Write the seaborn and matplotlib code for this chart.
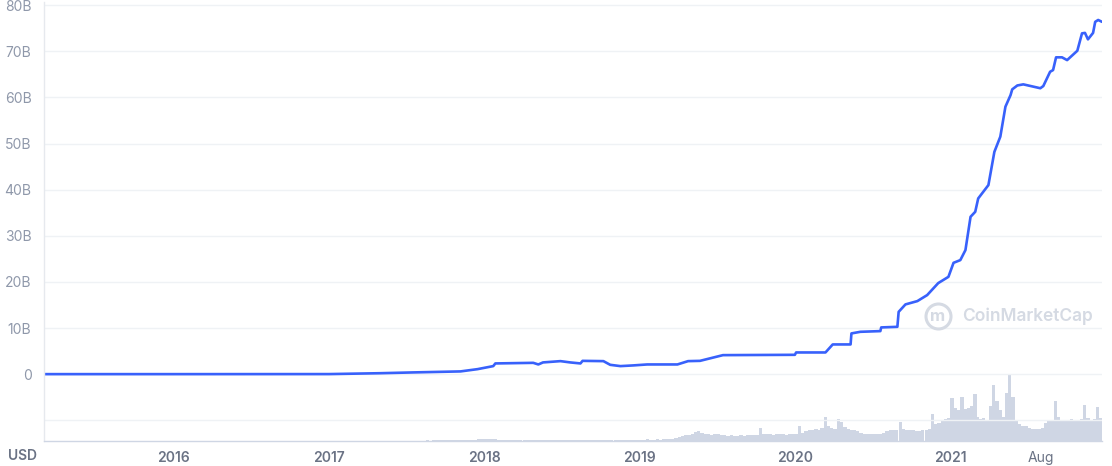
import matplotlib
matplotlib.use("Agg")
import matplotlib.pyplot as plt
import numpy as np
import pandas as pd
import seaborn as sns

# market cap, billions USD
cap_dates = [
    "2015-03-03", "2016-01-01", "2017-01-01", "2017-05-01", "2017-07-17", "2017-11-06",
    "2017-12-16", "2018-01-22", "2018-01-27", "2018-04-26", "2018-05-08", "2018-05-19",
    "2018-06-29", "2018-07-22", "2018-08-15", "2018-08-20", "2018-10-08", "2018-10-24",
    "2018-11-17", "2018-12-17", "2019-01-19", "2019-03-31", "2019-04-25", "2019-05-23",
    "2019-07-16", "2020-01-01", "2020-01-04", "2020-03-13", "2020-03-30", "2020-05-11",
    "2020-05-13", "2020-06-03", "2020-07-20", "2020-07-22", "2020-08-29", "2020-09-01",
    "2020-09-17", "2020-10-15", "2020-11-07", "2020-12-03", "2020-12-27", "2021-01-08",
    "2021-01-24", "2021-02-05", "2021-02-17", "2021-02-28", "2021-03-07", "2021-03-19",
    "2021-03-31", "2021-04-14", "2021-04-28", "2021-05-10", "2021-05-22", "2021-05-26",
    "2021-06-07", "2021-06-21", "2021-07-31", "2021-08-07", "2021-08-23", "2021-08-30",
    "2021-09-06", "2021-09-20", "2021-10-02", "2021-10-26", "2021-11-06", "2021-11-13",
    "2021-11-20", "2021-12-02", "2021-12-07", "2021-12-14", "2021-12-23",
]
cap_values = [
    0.0, 0.0, 0.01, 0.2, 0.37, 0.59,
    1.08, 1.74, 2.32, 2.45, 2.1, 2.54,
    2.82, 2.54, 2.32, 2.88, 2.82, 2.02,
    1.74, 1.89, 2.1, 2.1, 2.82, 2.88,
    4.12, 4.19, 4.7, 4.7, 6.44, 6.44,
    8.83, 9.18, 9.33, 10.13, 10.26, 13.51,
    15.12, 15.84, 17.14, 19.74, 21.1, 24.14,
    24.73, 26.9, 34.12, 35.2, 38.1, 39.55,
    41.0, 48.2, 51.5, 58.0, 60.5, 61.76,
    62.6, 62.84, 62.0, 62.47, 65.57, 65.94,
    68.7, 68.7, 68.1, 70.13, 73.9, 74.0,
    72.6, 74.0, 76.4, 76.8, 76.4,
]

# volume, billions USD, four readings per month
vol_2017 = [0.3, 0.3, 0.4, 0.3, 0.3, 0.4, 0.3, 0.4, 0.4, 0.5, 0.4, 0.5,
            0.5, 0.6, 0.5, 0.6, 0.7, 0.6, 0.8, 0.7, 0.8, 0.9, 0.8, 0.9,
            0.9, 1.0, 0.9, 1.1, 1.0, 1.1, 1.2, 1.1, 1.2, 1.3, 1.4, 1.3,
            1.5, 1.6, 1.8, 1.7, 1.9, 2.2, 2.4, 2.1, 2.6, 3.2, 3.8, 4.2]
vol_2018 = [4.5, 5.0, 4.2, 3.6, 3.4, 3.2, 2.8, 2.6, 2.6, 2.4, 2.5, 2.3,
            2.2, 2.4, 2.2, 2.1, 2.2, 2.0, 2.1, 2.2, 2.0, 1.9, 2.0, 2.1,
            2.0, 1.9, 2.1, 2.0, 2.1, 2.2, 2.0, 2.1, 2.2, 2.0, 2.1, 2.2,
            2.3, 2.2, 2.5, 2.4, 2.6, 2.8, 2.5, 2.4, 2.5, 2.6, 2.7, 2.8]
vol_2019 = [3, 3, 4, 3, 3, 4, 3, 4, 4, 5, 4, 6,
            8, 12, 14, 13, 16, 20, 23, 18, 16, 15, 14, 17,
            15, 14, 13, 12, 13, 12, 12, 13, 12, 13, 14, 13,
            14, 30, 16, 15, 15, 14, 16, 15, 15, 14, 16, 17]
vol_2020 = [16, 35, 18, 22, 24, 26, 28, 25, 30, 55, 35, 30,
            28, 50, 44, 32, 28, 26, 24, 22, 18, 16, 16, 17,
            16, 16, 17, 18, 22, 25, 24, 26, 44, 28, 26, 25,
            24, 23, 22, 24, 25, 28, 62, 38, 40, 45, 50, 52]
vol_2021 = [97, 75, 70, 100, 72, 75, 80, 108, 55, 50, 52, 48,
            80, 128, 90, 70, 55, 110, 152, 100, 45, 38, 35, 34,
            30, 28, 27, 28, 30, 42, 46, 45, 90, 55, 46, 47,
            45, 50, 48, 47, 50, 82, 52, 48, 50, 78, 52, 46]
vol_years = [2017, 2018, 2019, 2020, 2021]

tick_dates = ["2016-01-01", "2017-01-01", "2018-01-01", "2019-01-01",
              "2020-01-01", "2021-01-01", "2021-08-01"]
tick_labels = ["2016", "2017", "2018", "2019", "2020", "2021", "Aug"]

# ---- frames
cap = pd.DataFrame({"date": pd.to_datetime(cap_dates), "cap": cap_values})

vol_dates, vol_vals = [], []
for yr, vals in zip(vol_years, [vol_2017, vol_2018, vol_2019, vol_2020, vol_2021]):
    for i, v in enumerate(vals):
        m, k = divmod(i, 4)
        vol_dates.append(pd.Timestamp(yr, m + 1, 1) + pd.Timedelta(days=7.6 * k + 3.8))
        vol_vals.append(v)
vol = pd.DataFrame({"date": vol_dates, "volume": vol_vals})

# ---- style
sns.set_theme(style="white")
plt.rcParams["font.family"] = ["Inter", "DejaVu Sans"]

blue = "#3861FB"
grid_c = "#EFF2F5"
vol_c = "#CFD6E4"
ylab_c = "#8F98AA"
xlab_c = "#6B7385"

fig = plt.figure(figsize=(11.12, 4.66), dpi=100)
ax = fig.add_axes([44 / 1112, 1 - 441 / 466, 1058 / 1112, 439 / 466])
ax2 = ax.twinx()
ax.set_zorder(ax2.get_zorder() + 1)
ax.patch.set_visible(False)

# volume bars
ax2.bar(vol["date"], vol["volume"], width=8.0, color=vol_c, linewidth=0)
ax2.set_ylim(0, 1000)
ax2.set_yticks([])
for s in ax2.spines.values():
    s.set_visible(False)

# market cap line
sns.lineplot(data=cap, x="date", y="cap", ax=ax, color=blue, linewidth=1.9,
             solid_joinstyle="round", legend=False)

ax.set_xlim(pd.Timestamp("2015-03-03"), pd.Timestamp("2021-12-23"))
ax.set_ylim(-14.5, 80.7)
yt = list(range(-10, 81, 10))
ax.set_yticks(yt)
ax.set_yticklabels(["" if v < 0 else ("0" if v == 0 else f"{v}B") for v in yt],
                   color=ylab_c, fontsize=10)
ax.yaxis.grid(True, color=grid_c, linewidth=1)
ax.set_axisbelow(True)
ax.tick_params(axis="y", length=0, pad=9)

ax.set_xticks(pd.to_datetime(tick_dates))
ax.set_xticklabels(tick_labels, fontsize=10, color=xlab_c)
for lbl in ax.get_xticklabels():
    lbl.set_fontweight("regular" if lbl.get_text() == "Aug" else "semibold")
ax.tick_params(axis="x", length=4, width=1, color="#9EA6B5", pad=3, direction="out")
ax.set_xlabel("")
ax.set_ylabel("")

for side in ["top", "right"]:
    ax.spines[side].set_visible(False)
ax.spines["left"].set_color("#E6E9EE")
ax.spines["bottom"].set_color("#CFD6E4")
ax.spines["left"].set_linewidth(1)
ax.spines["bottom"].set_linewidth(1)

# watermark
ax.plot([0.8447], [0.2847], marker="o", markersize=18, markerfacecolor="none",
        markeredgecolor="#D5DAE3", markeredgewidth=2.2, transform=ax.transAxes)
ax.text(0.8447, 0.2847, "m", transform=ax.transAxes, ha="center", va="center",
        fontsize=12, fontweight="bold", color="#D5DAE3")
ax.text(0.8677, 0.2847, "CoinMarketCap", transform=ax.transAxes, ha="left",
        va="center", fontsize=12.5, fontweight="semibold", color="#D5DAE3")

fig.text(8 / 1112, 1 - 456 / 466, "USD", ha="left", va="center", fontsize=10,
         fontweight="semibold", color=xlab_c)

fig.savefig("out.png", dpi=100)
